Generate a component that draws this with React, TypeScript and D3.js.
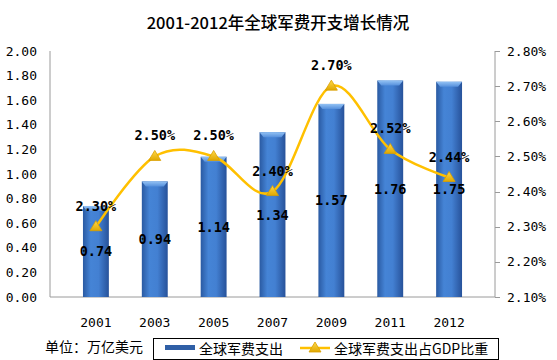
import React, { useEffect, useRef } from 'react';
import * as d3 from 'd3';

const years = ['2001', '2003', '2005', '2007', '2009', '2011', '2012'];
const spending = [0.74, 0.94, 1.14, 1.34, 1.57, 1.76, 1.75];
const gdpShare = [2.30, 2.50, 2.50, 2.40, 2.70, 2.52, 2.44];
const leftTicks = [0, 0.2, 0.4, 0.6, 0.8, 1.0, 1.2, 1.4, 1.6, 1.8, 2.0];
const rightTicks = [2.1, 2.2, 2.3, 2.4, 2.5, 2.6, 2.7, 2.8];

const mono = '"DejaVu Sans Mono", monospace';
const cjk = '"Noto Sans CJK SC", sans-serif';

const App = () => {
    const chartRef = useRef(null);

    useEffect(() => {
        const root = d3.select(chartRef.current);
        root.selectAll('*').remove();

        const left = 50, right = 495, top = 51, bottom = 297;

        const defs = root.append('defs');
        const barGrad = defs.append('linearGradient').attr('id', 'barGrad')
            .attr('x1', 0).attr('x2', 1).attr('y1', 0).attr('y2', 0);
        [['0%', '#2a5aa2'], ['30%', '#4584d6'], ['60%', '#4380d2'], ['100%', '#27529a']]
            .forEach(([o, c]) => barGrad.append('stop').attr('offset', o).attr('stop-color', c));
        const capGrad = defs.append('linearGradient').attr('id', 'capGrad')
            .attr('x1', 0).attr('x2', 0).attr('y1', 0).attr('y2', 1);
        [['0%', '#93c2f4'], ['100%', '#5690dc']]
            .forEach(([o, c]) => capGrad.append('stop').attr('offset', o).attr('stop-color', c));
        const triGrad = defs.append('linearGradient').attr('id', 'triGrad')
            .attr('x1', 0).attr('x2', 0).attr('y1', 0).attr('y2', 1);
        [['0%', '#ffd84a'], ['100%', '#e0a800']]
            .forEach(([o, c]) => triGrad.append('stop').attr('offset', o).attr('stop-color', c));

        root.append('text')
            .attr('x', 278).attr('y', 29)
            .attr('text-anchor', 'middle')
            .attr('font-family', cjk)
            .attr('font-size', 16.5)
            .attr('font-weight', 500)
            .attr('fill', '#000')
            .text('2001-2012年全球军费开支增长情况');

        const x = d3.scaleBand().domain(years).range([left, right]).padding(0.56);
        const y = d3.scaleLinear().domain([0, 2]).range([bottom, top]);
        const y2 = d3.scaleLinear().domain([2.1, 2.8]).range([bottom, top]);

        // axis lines
        root.append('line').attr('x1', left).attr('x2', left).attr('y1', top).attr('y2', bottom)
            .attr('stroke', '#9a9a9a');
        root.append('line').attr('x1', left).attr('x2', right).attr('y1', bottom).attr('y2', bottom)
            .attr('stroke', '#9a9a9a');
        root.append('line').attr('x1', right).attr('x2', right).attr('y1', top).attr('y2', bottom)
            .attr('stroke', '#9a9a9a');
        root.selectAll('.rtick').data(rightTicks).enter().append('line')
            .attr('x1', right).attr('x2', right + 5)
            .attr('y1', d => Math.round(y2(d)) + 0.5).attr('y2', d => Math.round(y2(d)) + 0.5)
            .attr('stroke', '#9a9a9a');

        root.selectAll('.ltl').data(leftTicks).enter().append('text')
            .attr('x', 37).attr('y', d => y(d) + 4.5)
            .attr('text-anchor', 'end')
            .attr('font-family', mono).attr('font-size', 13).attr('fill', '#000')
            .text(d => d.toFixed(2));
        root.selectAll('.rtl').data(rightTicks).enter().append('text')
            .attr('x', 507).attr('y', d => y2(d) + 4.5)
            .attr('font-family', mono).attr('font-size', 13).attr('fill', '#000')
            .text(d => d.toFixed(2) + '%');
        root.selectAll('.xtl').data(years).enter().append('text')
            .attr('x', d => x(d) + x.bandwidth() / 2).attr('y', 327)
            .attr('text-anchor', 'middle')
            .attr('font-family', mono).attr('font-size', 13).attr('fill', '#000')
            .text(d => d);

        // bars
        const bars = root.selectAll('.bar').data(years).enter().append('g');
        bars.append('rect')
            .attr('x', d => x(d)).attr('width', x.bandwidth())
            .attr('y', (d, i) => y(spending[i])).attr('height', (d, i) => bottom - y(spending[i]))
            .attr('fill', 'url(#barGrad)');
        bars.append('path')
            .attr('d', (d, i) => {
                const x0 = x(d), w = x.bandwidth(), t = y(spending[i]);
                return `M${x0},${t}L${x0 + w},${t}L${x0 + w - 4},${t + 5}L${x0 + 4},${t + 5}Z`;
            })
            .attr('fill', 'url(#capGrad)');

        // line
        const pts = years.map((d, i) => [x(d) + x.bandwidth() / 2, y2(gdpShare[i])]);
        const line = d3.line().curve(d3.curveCardinal.tension(0));
        root.append('path').attr('d', line(pts))
            .attr('fill', 'none').attr('stroke', '#ffc000').attr('stroke-width', 2.5);
        root.selectAll('.tri').data(pts).enter().append('path')
            .attr('d', d => `M${d[0]},${d[1] - 6}L${d[0] + 6},${d[1] + 4}L${d[0] - 6},${d[1] + 4}Z`)
            .attr('fill', 'url(#triGrad)').attr('stroke', '#d9a000').attr('stroke-width', 0.8);

        // labels
        root.selectAll('.vl').data(years).enter().append('text')
            .attr('x', d => x(d) + x.bandwidth() / 2)
            .attr('y', (d, i) => (y(spending[i]) + bottom) / 2 + 5)
            .attr('text-anchor', 'middle')
            .attr('font-family', mono).attr('font-size', 13.5).attr('font-weight', 'bold').attr('fill', '#000')
            .text((d, i) => spending[i].toFixed(2));
        root.selectAll('.pl').data(years).enter().append('text')
            .attr('x', d => x(d) + x.bandwidth() / 2)
            .attr('y', (d, i) => y2(gdpShare[i]) - 16)
            .attr('text-anchor', 'middle')
            .attr('font-family', mono).attr('font-size', 13.5).attr('font-weight', 'bold').attr('fill', '#000')
            .text((d, i) => gdpShare[i].toFixed(2) + '%');

        // unit + legend
        root.append('text').attr('x', 45).attr('y', 352)
            .attr('font-family', cjk).attr('font-size', 14).attr('fill', '#000')
            .text('单位：万亿美元');
        root.append('rect').attr('x', 153.5).attr('y', 338.5).attr('width', 345).attr('height', 21)
            .attr('fill', '#fff').attr('stroke', '#000');
        root.append('rect').attr('x', 165).attr('y', 345).attr('width', 30).attr('height', 5)
            .attr('fill', '#2f5fa6');
        root.append('text').attr('x', 199).attr('y', 354)
            .attr('font-family', cjk).attr('font-size', 14).attr('fill', '#000')
            .text('全球军费支出');
        root.append('line').attr('x1', 300).attr('x2', 330).attr('y1', 348).attr('y2', 348)
            .attr('stroke', '#ffc000').attr('stroke-width', 2.5);
        root.append('path').attr('d', 'M315,342L321,352L309,352Z')
            .attr('fill', 'url(#triGrad)').attr('stroke', '#d9a000').attr('stroke-width', 0.8);
        root.append('text').attr('x', 334).attr('y', 354)
            .attr('font-family', cjk).attr('font-size', 14).attr('fill', '#000')
            .text('全球军费支出占GDP比重');
    }, []);

    return (
        <svg ref={chartRef} width={557} height={360}
            style={{ position: 'absolute', left: 0, top: 0, background: '#fff' }} />
    );
};

export default App;
